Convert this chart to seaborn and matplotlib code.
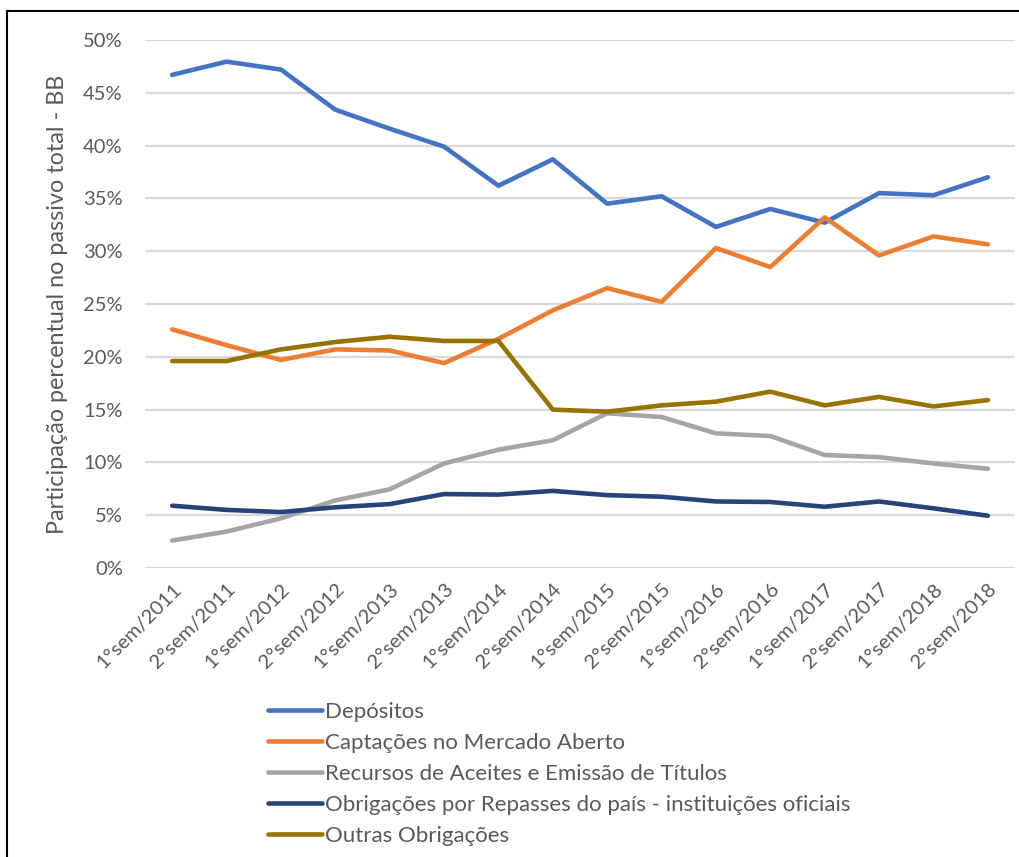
import matplotlib
matplotlib.use("Agg")
import matplotlib.pyplot as plt
import seaborn as sns
import pandas as pd
from matplotlib.ticker import PercentFormatter
from matplotlib.patches import Rectangle

categories = ["1°sem/2011", "2°sem/2011", "1°sem/2012", "2°sem/2012", "1°sem/2013",
              "2°sem/2013", "1°sem/2014", "2°sem/2014", "1°sem/2015", "2°sem/2015",
              "1°sem/2016", "2°sem/2016", "1°sem/2017", "2°sem/2017", "1°sem/2018",
              "2°sem/2018"]

depositos = [46.7, 47.95, 47.2, 43.4, 41.6, 39.9, 36.2, 38.7, 34.5, 35.2, 32.3, 34.0, 32.7, 35.5, 35.3, 37.0]
captacoes = [22.6, 21.1, 19.7, 20.7, 20.6, 19.4, 21.7, 24.4, 26.5, 25.2, 30.3, 28.5, 33.2, 29.6, 31.4, 30.65]
recursos = [2.6, 3.45, 4.7, 6.4, 7.45, 9.9, 11.2, 12.1, 14.65, 14.3, 12.75, 12.5, 10.7, 10.5, 9.9, 9.4]
repasses = [5.9, 5.5, 5.3, 5.75, 6.05, 7.0, 6.95, 7.3, 6.9, 6.75, 6.3, 6.25, 5.8, 6.3, 5.65, 4.95]
outras = [19.6, 19.6, 20.7, 21.4, 21.9, 21.5, 21.5, 15.0, 14.8, 15.4, 15.75, 16.7, 15.4, 16.2, 15.3, 15.9]

series_names = ["Depósitos", "Captações no Mercado Aberto",
                "Recursos de Aceites e Emissão de Títulos",
                "Obrigações por Repasses do país - instituições oficiais",
                "Outras Obrigações"]
series_values = [depositos, captacoes, recursos, repasses, outras]
colors = ["#4472C4", "#ED7D31", "#A5A5A5", "#264478", "#997300"]

rows = []
for name, vals in zip(series_names, series_values):
    for i, v in enumerate(vals):
        rows.append({"x": i, "cat": categories[i], "serie": name, "valor": v / 100.0})
df = pd.DataFrame(rows)

sns.set_theme(style="white")
plt.rcParams["font.family"] = ["Lato", "DejaVu Sans"]

W, H = 1020, 857
fig = plt.figure(figsize=(W / 100, H / 100), dpi=100)
left, right, top, bottom = 145, 1015, 40, 568
ax = fig.add_axes([left / W, (H - bottom) / H, (right - left) / W, (bottom - top) / H])

sns.lineplot(data=df, x="x", y="valor", hue="serie", hue_order=series_names,
             palette=colors, linewidth=3.3, ax=ax, legend=False,
             solid_capstyle="round", solid_joinstyle="round")

ax.set_xlim(-0.5, len(categories) - 0.5)
ax.set_ylim(0, 0.5)
ax.set_yticks([i / 100 for i in range(0, 51, 5)])
ax.yaxis.set_major_formatter(PercentFormatter(1.0, decimals=0))
ax.set_xticks(range(len(categories)))
ax.set_xticklabels(categories, rotation=45, ha="right", rotation_mode="anchor")
ax.tick_params(axis="both", length=0, labelsize=14.5, labelcolor="#595959")
ax.tick_params(axis="y", pad=16)
ax.tick_params(axis="x", pad=9)
ax.grid(axis="y", color="#D9D9D9", linewidth=1.6)
ax.set_axisbelow(True)
for s in ax.spines.values():
    s.set_visible(False)
ax.set_xlabel("")
ax.set_ylabel("Participação percentual no passivo total - BB", fontsize=16.8,
              color="#595959", labelpad=11)

handles = [plt.Line2D([], [], color=c, linewidth=3.3, solid_capstyle="round") for c in colors]
fig.legend(handles, series_names, loc="upper left",
           bbox_to_anchor=(268 / W, (H - 702) / H), frameon=False,
           fontsize=16, labelcolor="#595959", handlelength=2.45,
           handletextpad=0.1, labelspacing=0.49, borderpad=0, borderaxespad=0)

fig.patches.append(Rectangle((7 / W, -0.05), 1.2, (H - 10.5) / H + 0.05,
                             transform=fig.transFigure, fill=False,
                             edgecolor="black", linewidth=1.5))

fig.savefig("out.png", dpi=100)
